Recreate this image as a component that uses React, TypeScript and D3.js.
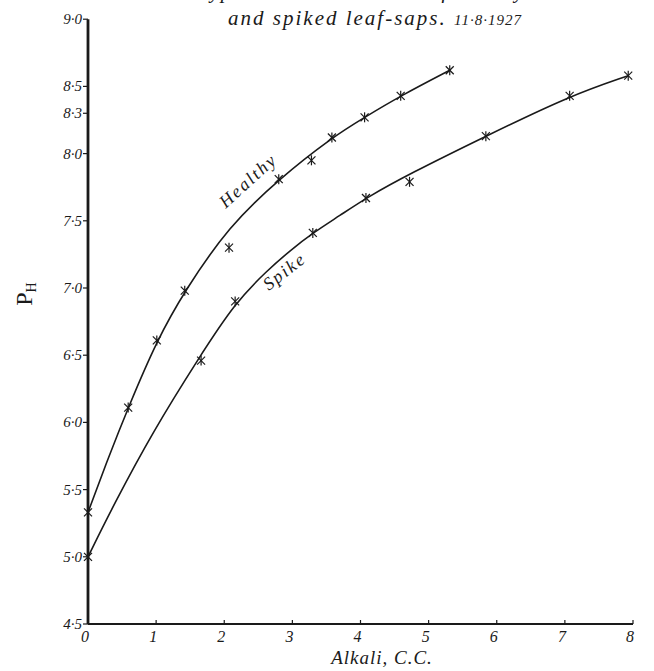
import React from "react";
import * as d3 from "d3";

// Plotted observations
const healthyX = [0, 0.59, 1.01, 1.42, 2.8, 3.58, 4.06, 4.59, 5.31];
const healthyY = [5.33, 6.11, 6.61, 6.98, 7.81, 8.12, 8.27, 8.43, 8.62];
const healthyOffX = [2.07, 3.28];
const healthyOffY = [7.3, 7.95];

const spikeX = [0, 1.66, 2.16, 3.3, 4.08, 5.84, 7.07, 7.93];
const spikeY = [5.0, 6.46, 6.9, 7.41, 7.67, 8.13, 8.43, 8.58];
const spikeOffX = [4.72];
const spikeOffY = [7.79];

// Hand-drawn fitted curves
const healthyCurveX = [0, 0.3, 0.59, 1.01, 1.42, 2.07, 2.8, 3.58, 4.06, 4.59, 5.31];
const healthyCurveY = [5.33, 5.74, 6.11, 6.61, 6.98, 7.46, 7.81, 8.12, 8.27, 8.43, 8.62];
const spikeCurveX = [0, 0.37, 0.95, 1.64, 2.16, 2.63, 2.97, 3.3, 3.7, 4.08, 4.72, 5.84, 7.07, 7.93];
const spikeCurveY = [5.0, 5.38, 5.93, 6.49, 6.89, 7.13, 7.28, 7.41, 7.54, 7.67, 7.85, 8.13, 8.43, 8.58];

const xTicks = [0, 1, 2, 3, 4, 5, 6, 7, 8];
const yTicks = [4.5, 5.0, 5.5, 6.0, 6.5, 7.0, 7.5, 8.0, 8.3, 8.5, 9.0];

const W = 654;
const H = 671;
const FONT = "'Liberation Serif', 'DejaVu Serif', serif";
const INK = "#1a1a1a";

function Star({ cx, cy }: { cx: number; cy: number }) {
  const s = 4;
  return (
    <g stroke={INK} strokeWidth={1.2}>
      <line x1={cx - s} y1={cy - s} x2={cx + s} y2={cy + s} />
      <line x1={cx - s} y1={cy + s} x2={cx + s} y2={cy - s} />
      <line x1={cx} y1={cy - s - 1} x2={cx} y2={cy + s + 1} />
    </g>
  );
}

export default function App() {
  const x = d3.scaleLinear().domain([0, 8]).range([88, 633]);
  const y = d3.scaleLinear().domain([4.5, 9]).range([624, 19.2]);

  const line = d3
    .line<[number, number]>()
    .x((d) => x(d[0]))
    .y((d) => y(d[1]))
    .curve(d3.curveBasis);

  const hPts: [number, number][] = healthyX.map((v, i) => [v, healthyY[i]]);
  const sPts: [number, number][] = spikeX.map((v, i) => [v, spikeY[i]]);
  const hOff: [number, number][] = healthyOffX.map((v, i) => [v, healthyOffY[i]]);
  const sOff: [number, number][] = spikeOffX.map((v, i) => [v, spikeOffY[i]]);
  const hCurve: [number, number][] = healthyCurveX.map((v, i) => [v, healthyCurveY[i]]);
  const sCurve: [number, number][] = spikeCurveX.map((v, i) => [v, spikeCurveY[i]]);

  const fmt = (v: number) => v.toFixed(1).replace(".", "·");

  return (
    <svg
      width={W}
      height={H}
      style={{ position: "absolute", left: 0, top: 0, background: "#fff" }}
      fontFamily={FONT}
    >
      <rect width={W} height={H} fill="#fff" />
      {/* Title */}
      <text x={362} y={-2} textAnchor="middle" fontSize={21} fontStyle="italic" fill={INK} letterSpacing={1.2}>
        Typical titration curves of healthy
      </text>
      <text x={375} y={25} textAnchor="middle" fontSize={21} fontStyle="italic" fill={INK} letterSpacing={2}>
        and spiked leaf-saps. <tspan fontSize={15} letterSpacing={1}>11·8·1927</tspan>
      </text>

      {/* Axes */}
      <line x1={x(0)} y1={y(9)} x2={x(0)} y2={y(4.5)} stroke={INK} strokeWidth={2.8} />
      <line x1={x(0)} y1={y(4.5)} x2={x(8)} y2={y(4.5)} stroke={INK} strokeWidth={2} />

      {yTicks.map((t) => (
        <g key={"y" + t}>
          <line x1={x(0) - 5} y1={y(t)} x2={x(0)} y2={y(t)} stroke={INK} strokeWidth={1.2} />
          <text
            x={x(0) - 6}
            y={y(t) + 5}
            textAnchor="end"
            fontSize={15}
            fontStyle="italic"
            fill={INK}
          >
            {fmt(t)}
          </text>
        </g>
      ))}

      {xTicks.map((t) => (
        <g key={"x" + t}>
          <line x1={x(t)} y1={y(4.5)} x2={x(t)} y2={y(4.5) - 4} stroke={INK} strokeWidth={1.2} />
          <text
            x={x(t) - 3}
            y={y(4.5) + 18}
            textAnchor="middle"
            fontSize={16}
            fontStyle="italic"
            fill={INK}
          >
            {t}
          </text>
        </g>
      ))}

      {/* Axis titles */}
      <text x={382} y={664} textAnchor="middle" fontSize={19} fontStyle="italic" fill={INK} letterSpacing={1}>
        Alkali, C.C.
      </text>
      <text
        transform={`translate(32, 294) rotate(-90)`}
        textAnchor="middle"
        fontSize={24}
        fill={INK}
      >
        P<tspan fontSize={14} dy={4}>H</tspan>
      </text>

      {/* Curves */}
      <path d={line(hCurve) || ""} fill="none" stroke={INK} strokeWidth={1.6} />
      <path d={line(sCurve) || ""} fill="none" stroke={INK} strokeWidth={1.6} />

      {[...hPts, ...hOff, ...sPts, ...sOff].map((d, i) => (
        <Star key={i} cx={x(d[0])} cy={y(d[1])} />
      ))}

      {/* Curve labels */}
      <text
        transform={`translate(252, 185) rotate(-42)`}
        textAnchor="middle"
        fontSize={18}
        fontStyle="italic"
        fill={INK}
        letterSpacing={2}
      >
        Healthy
      </text>
      <text
        transform={`translate(288, 276) rotate(-38)`}
        textAnchor="middle"
        fontSize={18}
        fontStyle="italic"
        fill={INK}
        letterSpacing={2}
      >
        Spike
      </text>
    </svg>
  );
}
